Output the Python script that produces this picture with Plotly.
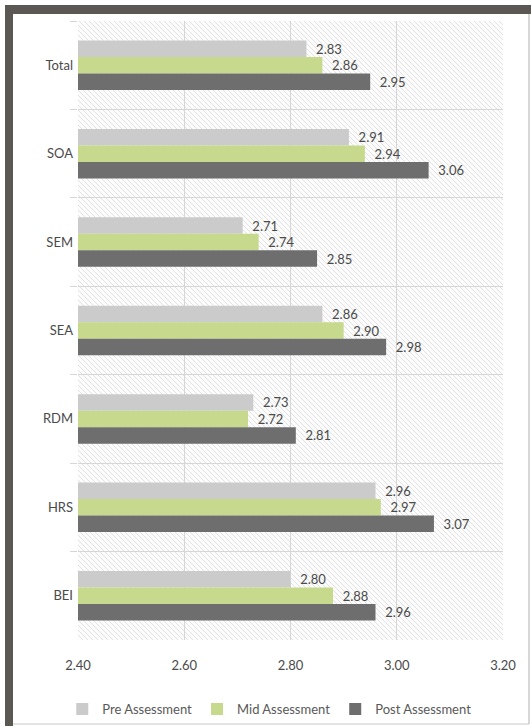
import base64
import plotly.graph_objects as go

categories = ["Total", "SOA", "SEM", "SEA", "RDM", "HRS", "BEI"]
pre = [2.83, 2.91, 2.71, 2.86, 2.73, 2.96, 2.80]
mid = [2.86, 2.94, 2.74, 2.90, 2.72, 2.97, 2.88]
post = [2.95, 3.06, 2.85, 2.98, 2.81, 3.07, 2.96]
series_names = ["Pre Assessment", "Mid Assessment", "Post Assessment"]
tick_vals = [2.40, 2.60, 2.80, 3.00, 3.20]
tick_text = ["2.40", "2.60", "2.80", "3.00", "3.20"]

colors = ["#cbcbcb", "#c6d98c", "#6e6e6e"]
FONT = "Lato, Open Sans, sans-serif"
TXT = "#4a4a4a"

W, H = 531, 726
ML, MR, MT, MB = 78, 28, 21, 86
PW, PH = W - ML - MR, H - MT - MB

fig = go.Figure()
for name, vals, col in zip(series_names, [pre, mid, post], colors):
    fig.add_trace(go.Bar(
        y=categories, x=vals, name=name, orientation="h",
        marker=dict(color=col, line=dict(width=0)),
        text=vals, texttemplate="\u00a0\u00a0%{x:.2f}", textposition="outside",
        textfont=dict(family=FONT, size=13, color=TXT),
        cliponaxis=False,
    ))

# hatched background image
lines = []
step = 5
for k in range(-PH, PW + PH, step):
    lines.append(f'<line x1="{k}" y1="0" x2="{k+PH}" y2="{PH}" />')
svg = (f'<svg xmlns="http://www.w3.org/2000/svg" width="{PW}" height="{PH}" viewBox="0 0 {PW} {PH}" preserveAspectRatio="none">'
       f'<rect width="{PW}" height="{PH}" fill="#fcfcfc"/>'
       f'<g stroke="#e2e2e2" stroke-width="1">' + "".join(lines) + '</g></svg>')
uri = "data:image/svg+xml;base64," + base64.b64encode(svg.encode()).decode()

def px_x(p):
    return (p - ML) / PW

def px_y(p):
    return (H - MB - p) / PH

frame = "#5b5752"
shapes = [
    dict(type="rect", xref="paper", yref="paper", x0=px_x(5), x1=px_x(531), y0=px_y(14), y1=px_y(5),
         fillcolor=frame, line=dict(width=0), layer="above"),
    dict(type="rect", xref="paper", yref="paper", x0=px_x(5), x1=px_x(13), y0=px_y(726), y1=px_y(5),
         fillcolor=frame, line=dict(width=0), layer="above"),
    dict(type="line", xref="paper", yref="paper", x0=px_x(529), x1=px_x(529), y0=px_y(724), y1=px_y(14),
         line=dict(color="#b0b0b0", width=1)),
    dict(type="line", xref="paper", yref="paper", x0=px_x(13), x1=px_x(529), y0=px_y(724), y1=px_y(724),
         line=dict(color="#c8c8c8", width=1)),
]

fig.update_layout(
    width=W, height=H,
    margin=dict(l=ML, r=MR, t=MT, b=MB, autoexpand=False),
    paper_bgcolor="white", plot_bgcolor="rgba(0,0,0,0)",
    barmode="group", bargap=0.44, bargroupgap=0.0,
    font=dict(family=FONT, size=13, color=TXT),
    images=[dict(source=uri, xref="paper", yref="paper", x=0, y=1, sizex=1, sizey=1,
                 xanchor="left", yanchor="top", sizing="stretch", layer="below")],
    shapes=shapes,
    xaxis=dict(range=[2.40, 3.20], tickvals=tick_vals, ticktext=tick_text, automargin=False,
               showgrid=True, gridcolor="#d6d6d6", gridwidth=1, zeroline=False,
               showline=False, ticks="", tickfont=dict(size=13, color=TXT), ticklabelstandoff=16),
    yaxis=dict(autorange="reversed", tickson="boundaries", showgrid=True, gridcolor="#d6d6d6",
               ticks="outside", ticklen=7, tickcolor="#d6d6d6", showline=False, automargin=False,
               tickfont=dict(size=13, color=TXT), ticklabelstandoff=4),
    legend=dict(orientation="h", x=0.45, xanchor="center", y=px_y(709), yanchor="middle",
                traceorder="normal", font=dict(size=13, color="#595959"),
                itemwidth=30, entrywidth=0, itemsizing="constant", bgcolor="rgba(0,0,0,0)",
                tracegroupgap=0),
    showlegend=True,
)

fig.write_html("out.html")
